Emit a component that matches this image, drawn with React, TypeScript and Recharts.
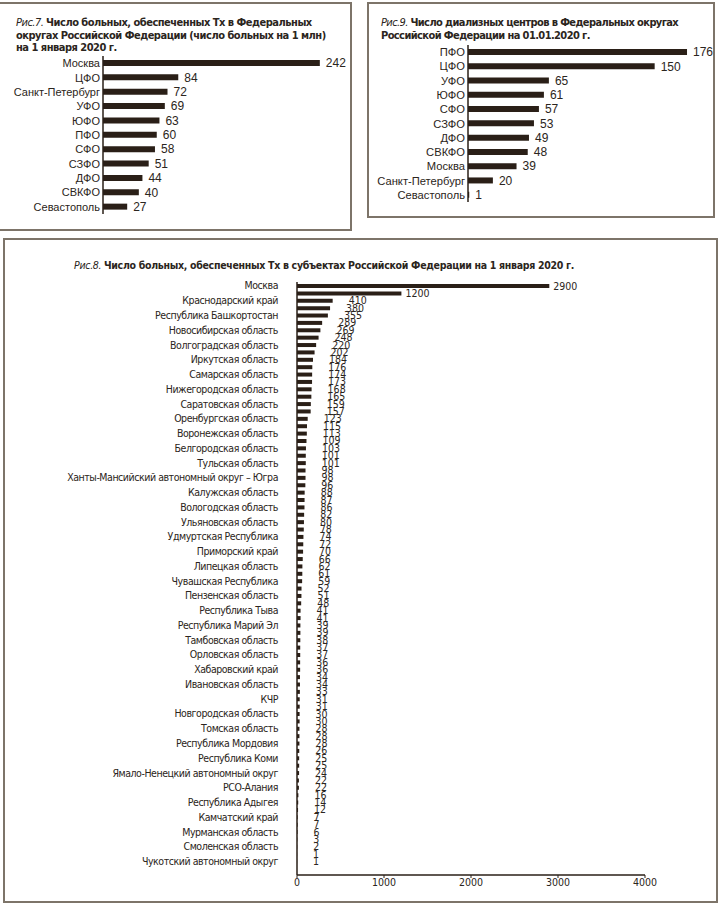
import React from "react";
import { BarChart, Bar, XAxis, YAxis, LabelList } from "recharts";

const fig7Names = ["Москва", "ЦФО", "Санкт-Петербург", "УФО", "ЮФО", "ПФО", "СФО", "СЗФО", "ДФО", "СВКФО", "Севастополь"];
const fig7Values = [242, 84, 72, 69, 63, 60, 58, 51, 44, 40, 27];

const fig9Names = ["ПФО", "ЦФО", "УФО", "ЮФО", "СФО", "СЗФО", "ДФО", "СВКФО", "Москва", "Санкт-Петербург", "Севастополь"];
const fig9Values = [176, 150, 65, 61, 57, 53, 49, 48, 39, 20, 1];

// only every second region is labelled in the original
const fig8Names = [
  "Москва", "", "Краснодарский край", "", "Республика Башкортостан", "",
  "Новосибирская область", "", "Волгоградская область", "", "Иркутская область", "",
  "Самарская область", "", "Нижегородская область", "", "Саратовская область", "",
  "Оренбургская область", "", "Воронежская область", "", "Белгородская область", "",
  "Тульская область", "", "Ханты-Мансийский автономный округ – Югра", "",
  "Калужская область", "", "Вологодская область", "", "Ульяновская область", "",
  "Удмуртская Республика", "", "Приморский край", "", "Липецкая область", "",
  "Чувашская Республика", "", "Пензенская область", "", "Республика Тыва", "",
  "Республика Марий Эл", "", "Тамбовская область", "", "Орловская область", "",
  "Хабаровский край", "", "Ивановская область", "", "КЧР", "",
  "Новгородская область", "", "Томская область", "", "Республика Мордовия", "",
  "Республика Коми", "", "Ямало-Ненецкий автономный округ", "", "РСО-Алания", "",
  "Республика Адыгея", "", "Камчатский край", "", "Мурманская область", "",
  "Смоленская область", "", "Чукотский автономный округ",
];
const fig8Values = [
  2900, 1200, 410, 380, 355, 289, 269, 248, 220, 202,
  184, 176, 174, 173, 168, 165, 159, 157, 123, 115,
  113, 109, 103, 101, 101, 98, 98, 96, 88, 87,
  86, 82, 80, 78, 74, 72, 70, 66, 62, 61,
  59, 52, 51, 48, 41, 41, 39, 39, 38, 37,
  37, 36, 36, 34, 34, 33, 31, 31, 30, 30,
  28, 28, 28, 26, 25, 25, 24, 22, 22, 16,
  14, 12, 7, 7, 6, 3, 2, 1, 1,
];
const fig8Ticks = [0, 1000, 2000, 3000, 4000];

const BAR = "#2a1f17";
const INK = "#2b2520";
const FRAME = "#7d7469";
const NARROW = "'DejaVu Sans Condensed', 'Liberation Sans', sans-serif";
const SANS = "'Liberation Sans', Arial, sans-serif";

const fig7Data = fig7Names.map((name, i) => ({ name, value: fig7Values[i] }));
const fig9Data = fig9Names.map((name, i) => ({ name, value: fig9Values[i] }));
const fig8Data = fig8Values.map((value, i) => ({ key: "r" + i, name: fig8Names[i], value }));

const Title = ({ num, text, style }: { num: string; text: React.ReactNode; style: React.CSSProperties }) => (
  <div style={{ position: "absolute", fontFamily: NARROW, color: INK, fontWeight: 700, whiteSpace: "nowrap", ...style }}>
    <span style={{ fontStyle: "italic", fontWeight: 400 }}>Рис.{num}. </span>
    {text}
  </div>
);

// plain tick text, so long names never get wrapped
const makeTick = (font: string, size: number, names?: string[], spacing = 0) => (props: any) => {
  const { x, y, payload, index } = props;
  const label = names ? names[index] : payload.value;
  return (
    <text x={x} y={y} dy={size * 0.36} textAnchor="end" fontSize={size} fontFamily={font} fill={INK}
      style={{ fill: INK, letterSpacing: spacing }}>
      {label}
    </text>
  );
};

const Fig8Label = (props: any) => {
  const { x, y, width, height, value } = props;
  const off = value > 1000 ? 4 : 16;
  return (
    <text x={x + width + off} y={y + height / 2} dy={3.5} fontSize={10.5} fontFamily={NARROW} fill={INK} style={{ fill: INK }}>
      {value}
    </text>
  );
};

export default function App() {
  return (
    <div style={{ position: "absolute", left: 0, top: 0, width: 720, height: 909, background: "#fff", overflow: "hidden" }}>
      {/* frames */}
      <div style={{ position: "absolute", left: -1, top: 2, width: 350, height: 225, border: `2px solid ${FRAME}`, borderLeftWidth: 1 }} />
      <div style={{ position: "absolute", left: 367, top: 2, width: 344, height: 212, border: `2px solid ${FRAME}` }} />
      <div style={{ position: "absolute", left: 3, top: 238, width: 711, height: 661, border: `2px solid ${FRAME}` }} />

      <Title
        num="7"
        text={<>Число больных, обеспеченных Тх в Федеральных<br />округах Российской Федерации (число больных на 1 млн)<br />на 1 января 2020 г.</>}
        style={{ left: 16, top: 17, fontSize: 11, lineHeight: "12.5px", letterSpacing: -0.5 }}
      />
      <Title
        num="9"
        text={<>Число диализных центров в Федеральных округах<br />Российской Федерации на 01.01.2020 г.</>}
        style={{ left: 381, top: 16, fontSize: 11, lineHeight: "13px", letterSpacing: -0.6 }}
      />
      <Title
        num="8"
        text="Число больных, обеспеченных Тх в субъектах Российской Федерации на 1 января 2020 г."
        style={{ left: 74, top: 259, fontSize: 10.5, lineHeight: "13px", letterSpacing: -0.3 }}
      />

      <div style={{ position: "absolute", left: 0, top: 50 }}>
        <BarChart width={350} height={170} data={fig7Data} layout="vertical" barCategoryGap={0}
          margin={{ top: 6, right: 23, bottom: 6, left: 0 }}>
          <XAxis type="number" domain={[0, 250]} hide />
          <YAxis type="category" dataKey="name" width={103} interval={0} tickLine={false} tickSize={0} tickMargin={3}
            axisLine={{ stroke: BAR, strokeWidth: 1.5 }}
            tick={makeTick(SANS, 11)} />
          <Bar dataKey="value" fill={BAR} barSize={6} isAnimationActive={false}>
            <LabelList dataKey="value" position="right" offset={6} fill={INK} fontSize={12} fontFamily={SANS} />
          </Bar>
        </BarChart>
      </div>

      <div style={{ position: "absolute", left: 367, top: 39 }}>
        <BarChart width={350} height={169} data={fig9Data} layout="vertical" barCategoryGap={0}
          margin={{ top: 6, right: 25, bottom: 6, left: 0 }}>
          <XAxis type="number" domain={[0, 180]} hide />
          <YAxis type="category" dataKey="name" width={101} interval={0} tickLine={false} tickSize={0} tickMargin={3}
            axisLine={{ stroke: BAR, strokeWidth: 1.5 }}
            tick={makeTick(SANS, 11.2)} />
          <Bar dataKey="value" fill={BAR} barSize={6} isAnimationActive={false}>
            <LabelList dataKey="value" position="right" offset={6} fill={INK} fontSize={12} fontFamily={SANS} />
          </Bar>
        </BarChart>
      </div>

      <div style={{ position: "absolute", left: 0, top: 276 }}>
        <BarChart width={685} height={623} data={fig8Data} layout="vertical" barCategoryGap={0}
          margin={{ top: 6, right: 40, bottom: 4, left: 0 }}>
          <XAxis type="number" domain={[0, 4000]} ticks={fig8Ticks} height={20} tickSize={3} tickMargin={1}
            axisLine={{ stroke: BAR, strokeWidth: 1.5 }} tickLine={{ stroke: BAR }}
            tick={{ fill: INK, fontSize: 10.5, fontFamily: NARROW }} />
          <YAxis type="category" dataKey="key" width={297} interval={0} tickLine={false} tickSize={0} tickMargin={19}
            padding={{ top: 0, bottom: 10 }}
            axisLine={{ stroke: BAR, strokeWidth: 1.5 }}
            tick={makeTick(NARROW, 10.5, fig8Names, -0.45)} />
          <Bar dataKey="value" fill={BAR} barSize={4} isAnimationActive={false}>
            <LabelList dataKey="value" content={Fig8Label} />
          </Bar>
        </BarChart>
      </div>
    </div>
  );
}
